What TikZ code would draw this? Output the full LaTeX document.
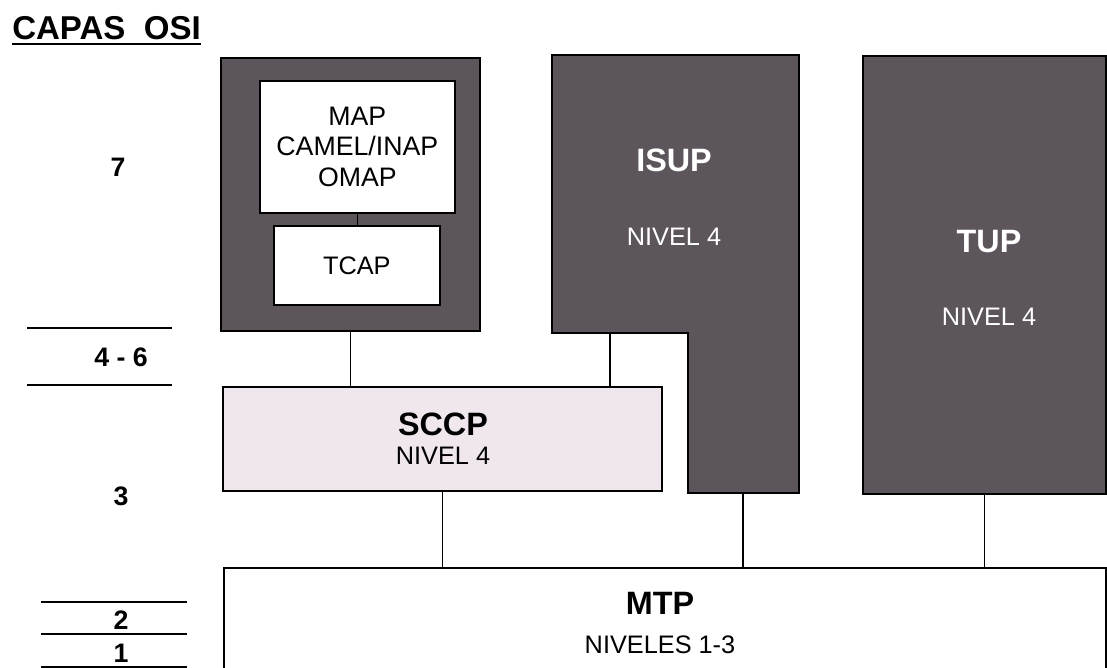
\documentclass[tikz,border=0pt]{standalone}
\usepackage{fontspec}
\setmainfont{Liberation Sans}
\usepackage{xcolor}
\usetikzlibrary{positioning,calc}
\definecolor{layergray}{RGB}{92,86,92}
\definecolor{sccppink}{RGB}{239,230,238}

\tikzset{
  sized/.style 2 args={minimum width=#1*0.025cm, minimum height=#2*0.025cm},
  darkbox/.style={rectangle, draw=black, fill=layergray, line width=1.3pt, inner sep=0pt, anchor=north west},
  whitebox/.style={rectangle, draw=black, fill=white, line width=1.2pt, inner sep=0pt, anchor=north west},
  link/.style={draw=black, line width=1pt},
  bigtxt/.style={font=\bfseries\fontsize{23}{26}\selectfont},
  subtxt/.style={font=\fontsize{18}{21}\selectfont},
  ositxt/.style={font=\bfseries\fontsize{19}{22}\selectfont}
}

\begin{document}
\begin{tikzpicture}[x=0.025cm, y=-0.025cm]
        \useasboundingbox (0,0) rectangle (1107,668);

        % title
        \node[anchor=west, inner sep=0pt, font=\bfseries\fontsize{23.5}{26}\selectfont] (title) at (12,28) {CAPAS\ \ OSI};
        \draw[line width=1.3pt] ([yshift=-3pt]title.south west) -- ([yshift=-3pt]title.south east);

        % osi layers on the left
        \node[ositxt] (osi7) at (118,167) {7};
        \node[ositxt] (osi46) at (121,357) {4 - 6};
        \node[ositxt] (osi3) at (121,496) {3};
        \node[ositxt] (osi2) at (121,620) {2};
        \node[ositxt] (osi1) at (121,653) {1};
        \foreach \yy in {328,385} \draw[line width=1pt] (27,\yy) -- (172,\yy);
        \foreach \yy in {602,634,667} \draw[line width=1pt] (41,\yy) -- (187,\yy);

        % MAP / TCAP stack
        \node[darkbox, sized={259}{273}] (stack) at (220,57) {};
        \node[whitebox, sized={195}{132}, align=center, font=\fontsize{19}{21.7}\selectfont] (map) at (259,80) {MAP\\CAMEL/INAP\\OMAP};
        \node[whitebox, sized={166}{79}, subtxt] (tcap) at (273,225) {TCAP};

        % ISUP (L shape)
        \draw[draw=black, fill=layergray, line width=1.3pt] (552,55) -- (799,55) -- (799,493) -- (688,493) -- (688,333) -- (552,333) -- cycle;
        \coordinate (isupnotch) at (610,333);
        \coordinate (isupfoot) at (743,493);
        \node[bigtxt, text=white] (isup) at (674,160) {ISUP};
        \node[subtxt, text=white] (isupniv) at (674,237) {NIVEL 4};

        % TUP
        \node[darkbox, sized={243}{438}] (tup) at (862,55) {};
        \node[bigtxt, text=white] (tuptxt) at (989,242) {TUP};
        \node[subtxt, text=white] (tupniv) at (989,317) {NIVEL 4};

        % SCCP
        \node[whitebox, fill=sccppink, sized={439}{104}] (sccp) at (222,386) {};
        \node[bigtxt] (sccptxt) at (443,424) {SCCP};
        \node[subtxt] (sccpniv) at (443,456) {NIVEL 4};

        % MTP
        \node[whitebox, sized={882}{115}] (mtp) at (223,567) {};
        \node[bigtxt] (mtptxt) at (660,603) {MTP};
        \node[subtxt] (mtpniv) at (660,645) {NIVELES 1-3};

        \draw[link] (map.south) -- (map.south |- tcap.north);
        \draw[link] (stack.south) -- (stack.south |- sccp.north);
        \draw[link] (isupnotch) -- (isupnotch |- sccp.north);
        \draw[link] (sccp.south) -- (sccp.south |- mtp.north);
        \draw[link] (isupfoot) -- (isupfoot |- mtp.north);
        \draw[link] (tup.south) -- (tup.south |- mtp.north);
      \end{tikzpicture}
\end{document}
